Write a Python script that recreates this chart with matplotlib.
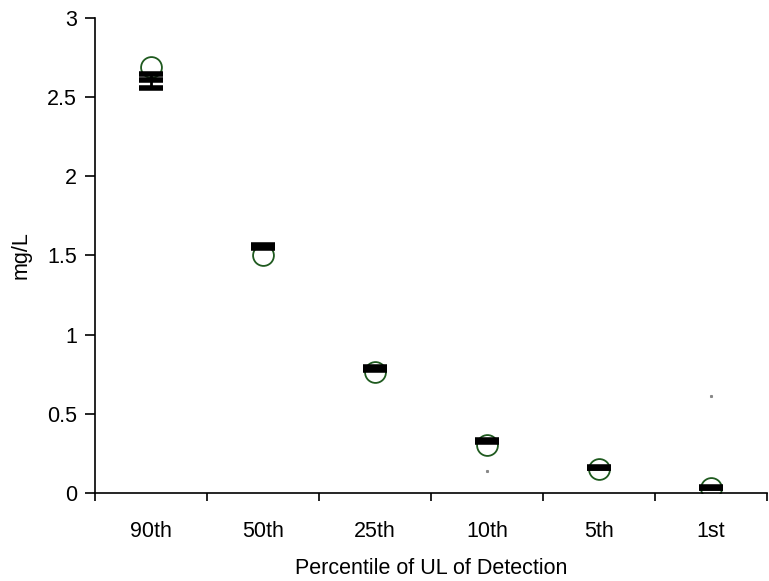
import numpy as np
import matplotlib
matplotlib.use('Agg')
from matplotlib import pyplot as plt

plt.rcParams['font.family'] = ['Liberation Sans', 'DejaVu Sans']

categories = ['90th', '50th', '25th', '10th', '5th', '1st']
# open circles
circle_vals = [2.69, 1.50, 0.765, 0.30, 0.15, 0.03]
# black bars (mean) with error
bar_vals = [2.61, 1.555, 0.785, 0.33, 0.16, 0.033]
err_low = [0.05, 0.01, 0.008, 0.006, 0.004, 0.004]
err_high = [0.035, 0.01, 0.008, 0.006, 0.004, 0.004]
# stray grey points
stray_cat = [3, 5]
stray_vals = [0.14, 0.61]

fs = 15.5

fig = plt.figure(figsize=(7.69, 5.81), dpi=100)
ax = fig.add_axes([0.1235, 0.1515, 0.874, 0.8175])

x = np.arange(len(categories))

ax.plot(x, circle_vals, 'o', ms=15, mfc='white', mec='#1f5a1f', mew=1.3,
        ls='none', zorder=2)
ax.errorbar(x, bar_vals, yerr=[err_low, err_high], fmt='_', color='black',
            ms=17, mew=4, elinewidth=2, capsize=8.5, capthick=2.5, zorder=3)
ax.plot(x[stray_cat], stray_vals, 's', ms=1.2, color='#888888', ls='none')

ax.set_xlim(-0.5, len(categories) - 0.5)
ax.set_ylim(0, 3)
ax.set_yticks([0, 0.5, 1, 1.5, 2, 2.5, 3])
ax.set_yticklabels(['0', '0.5', '1', '1.5', '2', '2.5', '3'])
ax.set_xticks(x)
ax.set_xticklabels(categories)
ax.set_xticks(np.arange(len(categories) + 1) - 0.5, minor=True)
ax.tick_params(axis='x', which='major', length=0, pad=20, labelsize=fs)
ax.tick_params(axis='x', which='minor', length=6, width=1.2, direction='out')
ax.tick_params(axis='y', length=7, width=1.2, direction='out', labelsize=fs, pad=6)

for s in ['top', 'right']:
    ax.spines[s].set_visible(False)
ax.spines['left'].set_linewidth(1.2)
ax.spines['bottom'].set_linewidth(1.2)

ax.set_xlabel('Percentile of UL of Detection', fontsize=fs, labelpad=12)
ax.set_ylabel('mg/L', fontsize=fs, labelpad=11)

fig.savefig('out.png', dpi=100)
